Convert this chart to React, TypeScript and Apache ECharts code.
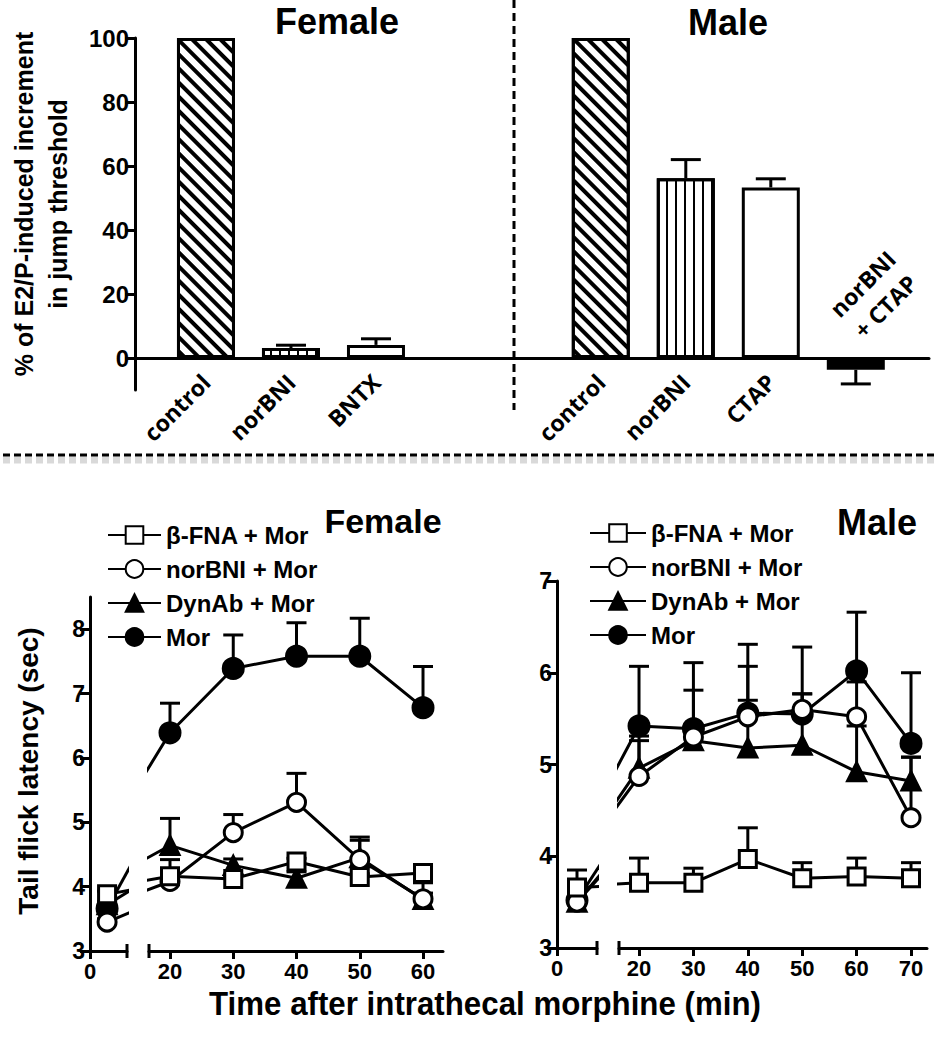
import React, { useEffect, useRef } from "react";
import * as echarts from "echarts";

// ---------------- Top panel data ----------------
const femaleGroups = ["control", "norBNI", "BNTX"];
const femaleIncrement = [100, 3.1, 4.1];
const femaleSem = [0, 0.9, 1.9];
const femalePatterns = ["hatch", "vstripe", "open"];

const maleGroups = ["control", "norBNI", "CTAP", "norBNI\n+ CTAP"];
const maleIncrement = [100, 56.2, 53.3, -3.7];
const maleSem = [0, 5.8, 2.7, 4.4];
const malePatterns = ["hatch", "vstripe", "open", "solid"];

const topTicks = [0, 20, 40, 60, 80, 100];

// ---------------- Bottom panel data ----------------
const groupNames = ["β-FNA + Mor", "norBNI + Mor", "DynAb + Mor", "Mor"];
const groupSymbols = ["rect", "circle", "triangle", "circle"];
const groupFills = ["#ffffff", "#ffffff", "#000000", "#000000"];

const femaleTimes = [3, 20, 30, 40, 50, 60];
const femaleBFNA = [3.88, 4.16, 4.12, 4.39, 4.15, 4.21];
const femaleBFNASem = [0.05, 0.26, 0.05, 0.05, 0.05, 0.05];
const femaleNorBNI = [3.45, 4.08, 4.84, 5.31, 4.42, 3.81];
const femaleNorBNISem = [0.05, 0.1, 0.28, 0.45, 0.3, 0.25];
const femaleDynAb = [3.72, 4.64, 4.33, 4.13, 4.45, 3.8];
const femaleDynAbSem = [0.05, 0.42, 0.1, 0.1, 0.32, 0.1];
const femaleMor = [3.66, 6.39, 7.39, 7.58, 7.58, 6.78];
const femaleMorSem = [0.05, 0.46, 0.52, 0.52, 0.59, 0.64];

const maleTimes = [3, 20, 30, 40, 50, 60, 70];
const maleBFNA = [3.66, 3.71, 3.71, 3.97, 3.76, 3.78, 3.76];
const maleBFNASem = [0.19, 0.27, 0.16, 0.34, 0.17, 0.2, 0.17];
const maleNorBNI = [3.5, 4.87, 5.3, 5.52, 5.6, 5.52, 4.42];
const maleNorBNISem = [0.05, 0.44, 0.51, 0.55, 0.17, 0.38, 0.66];
const maleDynAb = [3.5, 4.96, 5.26, 5.18, 5.21, 4.92, 4.82];
const maleDynAbSem = [0.05, 0.3, 0.15, 0.52, 0.56, 0.5, 0.26];
const maleMor = [3.52, 5.42, 5.39, 5.56, 5.55, 6.02, 5.23];
const maleMorSem = [0.05, 0.65, 0.72, 0.75, 0.73, 0.64, 0.77];

const femaleYTicks = [3, 4, 5, 6, 7, 8];
const maleYTicks = [3, 4, 5, 6, 7];
const femaleXTicks = [20, 30, 40, 50, 60];
const maleXTicks = [20, 30, 40, 50, 60, 70];
const baselineTick = [0];

// ---------------- Layout ----------------
const FONT = "'Liberation Sans', Arial, Helvetica, sans-serif";
const CAT_FONT = "'Open Sans', 'Noto Sans', sans-serif";

const TOP = { left: 135, top: 38, width: 794, height: 352 };
const SLOT = 85; // px per bar slot
const FEMALE_X0 = 0.835;
const MALE_X0 = 5.48;

const G_LS = { left: 90, top: 597, width: 37, height: 354, min: 0, max: 6.5 };
const G_LM = { left: 149, top: 597, width: 294, height: 354, min: 16.68, max: 63.16 };
const G_RS = { left: 557, top: 581, width: 40, height: 367, min: 0, max: 6.0 };
const G_RM = { left: 619, top: 581, width: 308, height: 367, min: 16.32, max: 72.94 };

const decalFor = (p: string) => {
  if (p === "hatch")
    return {
      symbol: "rect",
      symbolSize: 1,
      color: "#000",
      dashArrayX: [1, 0],
      dashArrayY: [3.5, 6],
      rotation: Math.PI / 4,
    };
  if (p === "vstripe")
    return {
      symbol: "rect",
      symbolSize: 1,
      color: "#000",
      dashArrayX: [2, 7],
      dashArrayY: [1, 0],
      rotation: 0,
    };
  return undefined;
};

const errRender = (capHalf: number) => (params: any, api: any) => {
  const x = api.value(0);
  const y = api.value(1);
  const top = api.value(2);
  const p0 = api.coord([x, y]);
  const p1 = api.coord([x, top]);
  const st = { stroke: "#000", lineWidth: 3 };
  return {
    type: "group",
    children: [
      { type: "line", shape: { x1: p0[0], y1: p0[1], x2: p1[0], y2: p1[1] }, style: st },
      { type: "line", shape: { x1: p1[0] - capHalf, y1: p1[1], x2: p1[0] + capHalf, y2: p1[1] }, style: st },
    ],
  };
};

export default function App() {
  const ref = useRef<HTMLDivElement>(null);

  useEffect(() => {
    document.body.style.margin = "0";
    if (!ref.current) return;
    const chart = echarts.init(ref.current, undefined, { renderer: "svg" });

    // ----- top bars -----
    const femaleX = femaleGroups.map((_, i) => FEMALE_X0 + i);
    const maleX = maleGroups.map((_, i) => MALE_X0 + i);
    const allX = [...femaleX, ...maleX];
    const allNames = [...femaleGroups, ...maleGroups];
    const allVals = [...femaleIncrement, ...maleIncrement];
    const allSem = [...femaleSem, ...maleSem];
    const allPat = [...femalePatterns, ...malePatterns];

    const barData = allX.map((x, i) => ({
      value: [x, allVals[i]],
      itemStyle: {
        color: allPat[i] === "solid" ? "#000" : "#fff",
        borderColor: "#000",
        borderWidth: 3,
        decal: decalFor(allPat[i]),
      },
    }));
    const barErr = allX
      .map((x, i) => [x, allVals[i], allVals[i] + Math.sign(allVals[i]) * allSem[i]])
      .filter((_, i) => allSem[i] > 0);

    const labelFor = (v: number) => {
      const idx = allX.findIndex((x) => Math.abs(x - v) < 1e-6);
      if (idx < 0) return "";
      const n = allNames[idx];
      return n.includes("\n") ? "" : n;
    };

    // ----- bottom lines -----
    const femaleSets = [
      [femaleBFNA, femaleBFNASem],
      [femaleNorBNI, femaleNorBNISem],
      [femaleDynAb, femaleDynAbSem],
      [femaleMor, femaleMorSem],
    ];
    const maleSets = [
      [maleBFNA, maleBFNASem],
      [maleNorBNI, maleNorBNISem],
      [maleDynAb, maleDynAbSem],
      [maleMor, maleMorSem],
    ];

    const series: any[] = [
      { type: "bar", xAxisIndex: 0, yAxisIndex: 0, barWidth: 58, data: barData, z: 2, silent: true },
      {
        type: "custom",
        xAxisIndex: 0,
        yAxisIndex: 0,
        data: barErr,
        renderItem: errRender(15),
        z: 1,
        silent: true,
      },
    ];

    const addPanel = (
      times: number[],
      sets: number[][][],
      smallAxis: number,
      mainAxis: number
    ) => {
      sets.forEach(([vals, sem], g) => {
        const common = {
          type: "line",
          name: groupNames[g],
          symbol: groupSymbols[g],
          symbolSize: g === 0 ? 17 : g === 3 ? 20 : 18,
          showAllSymbol: true,
          clip: true,
          lineStyle: { color: "#000", width: 3 },
          itemStyle: { color: groupFills[g], borderColor: "#000", borderWidth: 3, opacity: 1 },
          emphasis: { disabled: true },
          z: 7 - g,
        };
        const pts = times.map((t, i) => [t, vals[i]]);
        series.push({ ...common, xAxisIndex: smallAxis, yAxisIndex: smallAxis, data: pts.slice(0, 2) });
        series.push({ ...common, xAxisIndex: mainAxis, yAxisIndex: mainAxis, data: pts });
        const errs = times.map((t, i) => [t, vals[i], vals[i] + sem[i]]);
        series.push({
          type: "custom",
          xAxisIndex: smallAxis,
          yAxisIndex: smallAxis,
          data: errs.slice(0, 1),
          renderItem: errRender(10),
          z: 2,
          silent: true,
        });
        series.push({
          type: "custom",
          xAxisIndex: mainAxis,
          yAxisIndex: mainAxis,
          data: errs.slice(1),
          renderItem: errRender(10),
          z: 2,
          silent: true,
        });
      });
    };
    addPanel(femaleTimes, femaleSets, 1, 2);
    addPanel(maleTimes, maleSets, 3, 4);

    const axisLineStyle = { color: "#000", width: 3 };
    const tickStyle = { color: "#000", width: 3 };

    const gridOf = (g: any) => ({
      left: g.left,
      top: g.top,
      width: g.width,
      height: g.height,
      containLabel: false,
      outerBoundsMode: "none",
    });

    const bottomX = (gi: number, g: any, ticks: number[]) => ({
      type: "value",
      gridIndex: gi,
      min: g.min,
      max: g.max,
      axisLine: { show: true, onZero: false, lineStyle: axisLineStyle },
      axisTick: { show: true, customValues: ticks, length: 8, lineStyle: tickStyle },
      axisLabel: {
        customValues: ticks,
        color: "#000",
        fontFamily: FONT,
        fontWeight: "bold",
        fontSize: 22,
        margin: 9,
      },
      splitLine: { show: false },
    });
    const bottomY = (gi: number, ticks: number[], show: boolean) => ({
      type: "value",
      gridIndex: gi,
      show,
      min: ticks[0],
      max: gi <= 2 ? 8.5 : 7,
      axisLine: { show: true, onZero: false, lineStyle: axisLineStyle },
      axisTick: { show: true, customValues: ticks, length: 10, lineStyle: tickStyle },
      axisLabel: {
        customValues: ticks,
        color: "#000",
        fontFamily: FONT,
        fontWeight: "bold",
        fontSize: 23,
        margin: 5,
      },
      splitLine: { show: false },
    });

    const capLine = (x: number, y: number) => ({
      type: "line",
      shape: { x1: x, y1: y - 7, x2: x, y2: y + 7 },
      style: { stroke: "#000", lineWidth: 3 },
    });
    const txt = (x: number, y: number, text: string, font: string, rotation = 0, extra: any = {}, el: any = {}) => ({
      type: "text",
      x,
      y,
      rotation,
      ...el,
      style: {
        text,
        font,
        fill: "#000",
        textAlign: "center",
        textVerticalAlign: "middle",
        ...extra,
      },
    });

    const zeroY = TOP.top + (100 / 110) * TOP.height;
    const negX = TOP.left + (MALE_X0 + 3) * SLOT;

    const legendText = { color: "#000", fontFamily: FONT, fontWeight: "bold", fontSize: 24 };

    const option: any = {
      animation: false,
      backgroundColor: "#fff",
      textStyle: { fontFamily: FONT },
      grid: [gridOf(TOP), gridOf(G_LS), gridOf(G_LM), gridOf(G_RS), gridOf(G_RM)],
      xAxis: [
        {
          type: "value",
          gridIndex: 0,
          min: 0,
          max: TOP.width / SLOT,
          axisLine: { show: true, onZero: true, lineStyle: axisLineStyle },
          axisTick: { show: false },
          axisLabel: {
            customValues: allX,
            formatter: (v: number) => labelFor(v),
            rotate: 45,
            color: "#000",
            fontFamily: CAT_FONT,
            fontWeight: "bold",
            fontSize: 23,
            margin: -12,
          },
          splitLine: { show: false },
        },
        bottomX(1, G_LS, baselineTick),
        bottomX(2, G_LM, femaleXTicks),
        bottomX(3, G_RS, baselineTick),
        bottomX(4, G_RM, maleXTicks),
      ],
      yAxis: [
        {
          type: "value",
          gridIndex: 0,
          min: -10,
          max: 100,
          axisLine: { show: true, onZero: false, lineStyle: axisLineStyle },
          axisTick: { show: true, customValues: topTicks, length: 10, lineStyle: tickStyle },
          axisLabel: {
            customValues: topTicks,
            color: "#000",
            fontFamily: FONT,
            fontWeight: "bold",
            fontSize: 24,
            margin: 6,
          },
          splitLine: { show: false },
        },
        bottomY(1, femaleYTicks, true),
        bottomY(2, femaleYTicks, false),
        bottomY(3, maleYTicks, true),
        bottomY(4, maleYTicks, false),
      ],
      legend: [
        {
          data: groupNames,
          orient: "vertical",
          left: 107,
          top: 523,
          padding: 0,
          itemWidth: 53,
          itemHeight: 22,
          itemGap: 10,
          selectedMode: false,
          textStyle: legendText,
        },
        {
          data: groupNames,
          orient: "vertical",
          left: 589,
          top: 521,
          padding: 0,
          itemWidth: 56,
          itemHeight: 22,
          itemGap: 10,
          selectedMode: false,
          textStyle: legendText,
        },
      ],
      graphic: [
        txt(337, 21, "Female", `bold 36px ${FONT}`),
        txt(728, 22, "Male", `bold 36px ${FONT}`),
        txt(24, 204, "% of E2/P-induced increment", `bold 25px ${FONT}`, Math.PI / 2),
        txt(58, 204, "in jump threshold", `bold 25px ${FONT}`, Math.PI / 2),
        txt(negX + 18, zeroY - 63, maleGroups[3], `bold 23px ${CAT_FONT}`, Math.PI / 4, { lineHeight: 32 }),
        {
          type: "line",
          shape: { x1: 514, y1: 0, x2: 514, y2: 410 },
          style: { stroke: "#000", lineWidth: 3, lineDash: [8, 5] },
        },
        {
          type: "line",
          shape: { x1: 3, y1: 460, x2: 937, y2: 460 },
          style: { stroke: "rgba(0,0,0,0.15)", lineWidth: 7, lineDash: [7, 4] },
        },
        {
          type: "line",
          shape: { x1: 3, y1: 455, x2: 937, y2: 455 },
          style: { stroke: "#000", lineWidth: 3, lineDash: [7, 4] },
        },
        txt(383, 521, "Female", `bold 34px ${FONT}`),
        txt(877, 522, "Male", `bold 36px ${FONT}`),
        txt(28, 771, "Tail flick latency (sec)", `bold 28px ${FONT}`, Math.PI / 2),
        txt(485, 1003, "Time after intrathecal morphine (min)", `bold 34px ${FONT}`, 0, {}, { scaleX: 0.92 }),
        capLine(G_LS.left + G_LS.width, G_LS.top + G_LS.height),
        capLine(G_LM.left, G_LM.top + G_LM.height),
        capLine(G_RS.left + G_RS.width, G_RS.top + G_RS.height),
        capLine(G_RM.left, G_RM.top + G_RM.height),
      ],
      series,
    };

    chart.setOption(option);
    return () => chart.dispose();
  }, []);

  return <div ref={ref} style={{ width: 940, height: 1050 }} />;
}
